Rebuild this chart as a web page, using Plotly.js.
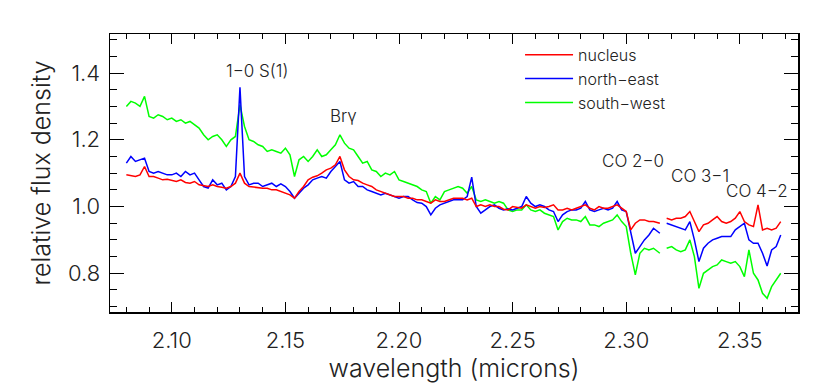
<!DOCTYPE html>
<html>
<head>
<meta charset="utf-8">
<script src="https://cdn.plot.ly/plotly-3.0.1.min.js"></script>
<style>
  html, body { margin: 0; padding: 0; background: #fff; }
  #chart { width: 830px; height: 383px; }
</style>
</head>
<body>
<div id="chart"></div>
<script>
// wavelength grid (microns); 2.316 is the gap between the two detector segments
const wavelength = [
  2.080, 2.082, 2.084, 2.086, 2.088, 2.090, 2.092, 2.094, 2.096, 2.098,
  2.100, 2.102, 2.104, 2.106, 2.108, 2.110, 2.112, 2.114, 2.116, 2.118,
  2.120, 2.122, 2.124, 2.126, 2.128, 2.130, 2.132, 2.134, 2.136, 2.138,
  2.140, 2.142, 2.144, 2.146, 2.148, 2.150, 2.152, 2.154, 2.156, 2.158,
  2.160, 2.162, 2.164, 2.166, 2.168, 2.170, 2.172, 2.174, 2.176, 2.178,
  2.180, 2.182, 2.184, 2.186, 2.188, 2.190, 2.192, 2.194, 2.196, 2.198,
  2.200, 2.202, 2.204, 2.206, 2.208, 2.210, 2.212, 2.214, 2.216, 2.218,
  2.220, 2.222, 2.224, 2.226, 2.228, 2.230, 2.232, 2.234, 2.236, 2.238,
  2.240, 2.242, 2.244, 2.246, 2.248, 2.250, 2.252, 2.254, 2.256, 2.258,
  2.260, 2.262, 2.264, 2.266, 2.268, 2.270, 2.272, 2.274, 2.276, 2.278,
  2.280, 2.282, 2.284, 2.286, 2.288, 2.290, 2.292, 2.294, 2.296, 2.298,
  2.300, 2.302, 2.304, 2.306, 2.308, 2.310, 2.312, 2.3148, 2.316, 2.3178,
  2.320, 2.322, 2.324, 2.326, 2.328, 2.330, 2.332, 2.334, 2.336, 2.338,
  2.340, 2.342, 2.344, 2.346, 2.348, 2.350, 2.352, 2.354, 2.356, 2.358,
  2.360, 2.362, 2.364, 2.366, 2.368
];

const nucleus = [
  1.095, 1.092, 1.090, 1.095, 1.120, 1.090, 1.090, 1.085, 1.080, 1.082,
  1.078, 1.075, 1.080, 1.072, 1.070, 1.075, 1.065, 1.062, 1.060, 1.065,
  1.060, 1.058, 1.055, 1.060, 1.070, 1.100, 1.070, 1.060, 1.058, 1.055,
  1.055, 1.055, 1.050, 1.050, 1.045, 1.040, 1.035, 1.025, 1.045, 1.060,
  1.080, 1.088, 1.092, 1.100, 1.110, 1.115, 1.125, 1.150, 1.110, 1.090,
  1.080, 1.078, 1.070, 1.065, 1.060, 1.050, 1.045, 1.040, 1.035, 1.030,
  1.030, 1.030, 1.025, 1.025, 1.020, 1.020, 1.015, 1.010, 1.020, 1.015,
  1.015, 1.020, 1.025, 1.025, 1.025, 1.020, 1.025, 1.000, 1.005, 1.000,
  1.005, 1.000, 1.000, 0.992, 0.990, 1.000, 0.997, 0.995, 1.005, 1.000,
  0.995, 1.000, 0.997, 1.000, 1.005, 0.990, 0.990, 0.995, 0.990, 0.995,
  1.000, 1.005, 0.995, 0.990, 1.000, 0.995, 0.995, 1.000, 1.005, 0.995,
  0.985, 0.930, 0.950, 0.960, 0.960, 0.955, 0.955, 0.950, null, 0.965,
  0.960, 0.965, 0.965, 0.970, 0.985, 0.955, 0.925, 0.945, 0.950, 0.960,
  0.970, 0.955, 0.950, 0.955, 0.965, 0.985, 0.955, 0.945, 0.940, 1.005,
  0.930, 0.935, 0.930, 0.935, 0.955
];

const northEast = [
  1.130, 1.150, 1.135, 1.140, 1.145, 1.105, 1.100, 1.105, 1.100, 1.095,
  1.095, 1.100, 1.090, 1.105, 1.095, 1.100, 1.080, 1.060, 1.055, 1.080,
  1.065, 1.070, 1.050, 1.060, 1.090, 1.357, 1.090, 1.065, 1.070, 1.070,
  1.060, 1.065, 1.070, 1.060, 1.068, 1.060, 1.045, 1.025, 1.040, 1.055,
  1.065, 1.080, 1.085, 1.090, 1.085, 1.105, 1.120, 1.135, 1.080, 1.070,
  1.075, 1.060, 1.060, 1.050, 1.045, 1.040, 1.035, 1.040, 1.035, 1.030,
  1.025, 1.030, 1.030, 1.020, 1.012, 1.010, 1.000, 0.975, 0.995, 1.005,
  1.010, 1.015, 1.020, 1.020, 1.020, 1.030, 1.088, 1.000, 0.980, 0.990,
  1.000, 1.005, 0.995, 0.990, 0.993, 0.990, 0.995, 1.000, 1.030, 1.010,
  1.000, 1.005, 1.000, 0.990, 0.985, 0.955, 0.975, 0.985, 0.990, 0.990,
  0.995, 1.015, 0.990, 0.985, 0.990, 0.995, 0.990, 0.995, 1.015, 0.990,
  0.985, 0.920, 0.860, 0.880, 0.900, 0.915, 0.935, 0.920, null, 0.950,
  0.945, 0.940, 0.935, 0.930, 0.955, 0.900, 0.835, 0.875, 0.890, 0.900,
  0.905, 0.910, 0.910, 0.910, 0.930, 0.940, 0.950, 0.900, 0.890, 0.890,
  0.860, 0.822, 0.870, 0.880, 0.915
];

const southWest = [
  1.300, 1.315, 1.310, 1.300, 1.330, 1.270, 1.265, 1.275, 1.270, 1.260,
  1.265, 1.255, 1.260, 1.250, 1.255, 1.245, 1.235, 1.215, 1.200, 1.210,
  1.215, 1.200, 1.180, 1.200, 1.210, 1.305, 1.240, 1.200, 1.195, 1.185,
  1.180, 1.165, 1.170, 1.165, 1.160, 1.175, 1.155, 1.090, 1.140, 1.150,
  1.135, 1.150, 1.170, 1.150, 1.155, 1.170, 1.185, 1.215, 1.190, 1.175,
  1.170, 1.150, 1.130, 1.135, 1.110, 1.105, 1.090, 1.100, 1.095, 1.105,
  1.080, 1.075, 1.070, 1.065, 1.060, 1.050, 1.045, 1.010, 1.030, 1.020,
  1.045, 1.050, 1.055, 1.060, 1.055, 1.040, 1.060, 1.020, 1.015, 1.020,
  1.015, 1.010, 1.015, 1.010, 0.990, 0.985, 0.990, 0.990, 1.005, 0.990,
  0.985, 0.990, 0.980, 0.975, 0.970, 0.930, 0.955, 0.965, 0.960, 0.960,
  0.955, 0.970, 0.945, 0.945, 0.940, 0.950, 0.955, 0.960, 0.975, 0.955,
  0.940, 0.860, 0.795, 0.860, 0.875, 0.870, 0.875, 0.860, null, 0.875,
  0.880, 0.870, 0.865, 0.870, 0.900, 0.850, 0.755, 0.800, 0.810, 0.820,
  0.825, 0.840, 0.835, 0.830, 0.835, 0.820, 0.790, 0.870, 0.800, 0.780,
  0.740, 0.725, 0.760, 0.780, 0.800
];

const seriesNames = ["nucleus", "north\u2212east", "south\u2212west"];
const seriesColors = ["#ff0000", "#0000ff", "#00ff00"];

// tick labels
const xTickVals = [2.10, 2.15, 2.20, 2.25, 2.30, 2.35];
const xTickText = ["2.10", "2.15", "2.20", "2.25", "2.30", "2.35"];
const yTickVals = [0.8, 1.0, 1.2, 1.4];
const yTickText = ["0.8", "1.0", "1.2", "1.4"];

// line labels
const lineLabels = ["1\u22120 S(1)", "Br\u03b3", "CO 2\u22120", "CO 3\u22121", "CO 4\u22122"];
const lineLabelX = [2.1373, 2.1756, 2.3030, 2.3325, 2.3577];
const lineLabelY = [1.407, 1.272, 1.136, 1.092, 1.046];

const X_RANGE = [2.0728, 2.3756];
const Y_RANGE = [0.684, 1.517];

const FONT = "Inter, 'DejaVu Sans', sans-serif";
const INK = "#222";

// draw green first so red ends up on top
const order = [2, 1, 0];
const ySeries = [nucleus, northEast, southWest];
const data = order.map((i) => ({
  x: wavelength,
  y: ySeries[i],
  name: seriesNames[i],
  type: "scatter",
  mode: "lines",
  connectgaps: false,
  line: { color: seriesColors[i], width: 1.5 }
}));

// empty trace that carries the overlay axes used for the inside tick frame
data.push({ x: [], y: [], xaxis: "x2", yaxis: "y2", showlegend: false, hoverinfo: "skip" });

const annotations = lineLabels.map((t, i) => ({
  text: t,
  x: lineLabelX[i],
  y: lineLabelY[i],
  xref: "x",
  yref: "y",
  showarrow: false,
  font: { family: FONT, size: 17, color: INK, weight: 300 }
}));

// frame axes: inside major + minor ticks on all four sides, no labels
const frameAxis = (range, dtick, tick0, len, minorDtick) => ({
  range: range,
  tickmode: "linear",
  tick0: tick0,
  dtick: dtick,
  ticks: "inside",
  ticklen: len,
  tickwidth: 1,
  tickcolor: "#000",
  minor: { dtick: minorDtick, ticks: "inside", ticklen: len / 2, tickcolor: "#000" },
  showticklabels: false,
  showline: true,
  linecolor: "#000",
  linewidth: 1.5,
  mirror: "allticks",
  showgrid: false,
  zeroline: false
});

const xFrame = frameAxis(X_RANGE, 0.05, 2.1, 10, 0.01);
xFrame.overlaying = "x";
xFrame.anchor = "y2";
xFrame.side = "bottom";
const yFrame = frameAxis(Y_RANGE, 0.2, 0.8, 14, 0.05);
yFrame.overlaying = "y";
yFrame.anchor = "x2";
yFrame.side = "left";

const layout = {
  width: 830,
  height: 383,
  margin: { l: 110, r: 32, t: 34, b: 71 },
  showlegend: true,
  legend: {
    x: 0.596,
    y: 0.986,
    xanchor: "left",
    yanchor: "top",
    traceorder: "reversed",
    bgcolor: "rgba(0,0,0,0)",
    font: { family: FONT, size: 16, color: INK, weight: 300 },
    itemwidth: 48
  },
  xaxis: {
    range: X_RANGE,
    tickmode: "array",
    tickvals: xTickVals,
    ticktext: xTickText,
    ticks: "",
    ticklabelstandoff: 8,
    showline: true,
    linecolor: "#000",
    linewidth: 1.5,
    mirror: true,
    showgrid: false,
    zeroline: false,
    tickfont: { family: FONT, size: 22, color: INK, weight: 300 },
    title: { text: "wavelength (microns)", font: { family: FONT, size: 25, color: INK, weight: 300 }, standoff: 10 }
  },
  yaxis: {
    range: Y_RANGE,
    tickmode: "array",
    tickvals: yTickVals,
    ticktext: yTickText,
    ticks: "",
    ticklabelstandoff: 4,
    showline: true,
    linecolor: "#000",
    linewidth: 1.5,
    mirror: true,
    showgrid: false,
    zeroline: false,
    tickfont: { family: FONT, size: 22, color: INK, weight: 300 },
    title: { text: "relative flux density", font: { family: FONT, size: 25, color: INK, weight: 300 }, standoff: 10 }
  },
  xaxis2: xFrame,
  yaxis2: yFrame,
  annotations: annotations
};

Plotly.newPlot("chart", data, layout, { displayModeBar: false, staticPlot: true });
</script>
</body>
</html>
